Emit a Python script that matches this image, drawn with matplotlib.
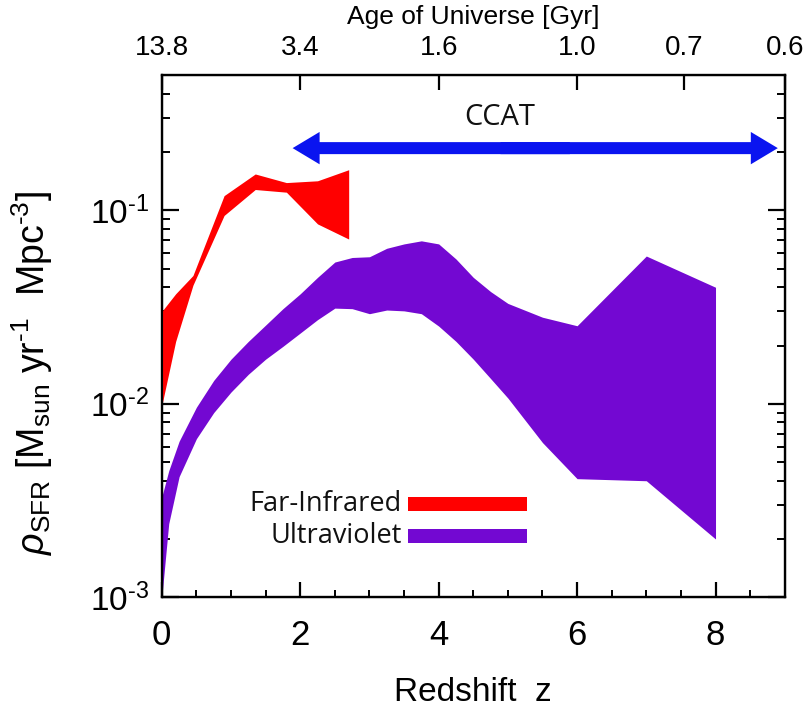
import matplotlib
matplotlib.use("Agg")
import matplotlib.pyplot as plt
import matplotlib.patches as mpatches
from matplotlib.transforms import blended_transform_factory
from matplotlib.ticker import MultipleLocator, LogLocator, FixedLocator, NullFormatter

# ---------------- data ----------------
z_fir = [0, 0.2, 0.45, 0.9, 1.35, 1.8, 2.25, 2.7]
fir_hi = [0.030, 0.037, 0.046, 0.119, 0.154, 0.139, 0.142, 0.162]
fir_lo = [0.0098, 0.021, 0.041, 0.094, 0.128, 0.124, 0.085, 0.071]

z_uv = [0, 0.1, 0.25, 0.5, 0.75, 1.0, 1.25, 1.5, 1.75, 2.0, 2.25, 2.5, 2.75,
        3.0, 3.25, 3.5, 3.75, 4.0, 4.25, 4.5, 4.75, 5.0, 5.5, 6.0, 7.0, 8.0]
uv_hi = [0.0033, 0.0045, 0.0064, 0.0096, 0.0132, 0.0170, 0.0210, 0.0255, 0.031,
         0.037, 0.045, 0.054, 0.057, 0.0575, 0.0636, 0.067, 0.0695, 0.067,
         0.056, 0.045, 0.038, 0.033, 0.028, 0.0253, 0.058, 0.040]
uv_lo = [0.0010, 0.0024, 0.0042, 0.0066, 0.0090, 0.0115, 0.0142, 0.0170, 0.0198,
         0.0232, 0.0272, 0.0312, 0.031, 0.0292, 0.0305, 0.0302, 0.0292, 0.0252,
         0.021, 0.017, 0.0135, 0.0107, 0.0063, 0.0041, 0.0040, 0.0020]

ccat_range = (1.89, 8.9)
ccat_label = "CCAT"

bottom_ticks = [0, 2, 4, 6, 8]
top_tick_z = [0, 2, 4, 6, 7.54, 9]
top_tick_labels = ["13.8", "3.4", "1.6", "1.0", "0.7", "0.6"]
ytick_vals = [1e-3, 1e-2, 1e-1]
ytick_labels = ["$10^{\u2010 3}$", "$10^{\u20102}$", "$10^{\u20101}$"]
ytick_labels = ["$10^{\u20103}$", "$10^{\u20102}$", "$10^{\u20101}$"]

series_names = ["Far-Infrared", "Ultraviolet"]
RED = "#ff0000"
PURPLE = "#7308d2"
BLUE = "#0a14f0"

# ---------------- style ----------------
plt.rcParams["font.family"] = ["Liberation Sans", "DejaVu Sans"]
plt.rcParams["mathtext.fontset"] = "custom"
plt.rcParams["mathtext.rm"] = "Liberation Sans"
plt.rcParams["mathtext.it"] = "Liberation Sans:italic"
plt.rcParams["mathtext.bf"] = "Liberation Sans:bold"

fig = plt.figure(figsize=(8.09, 7.11), dpi=100)
ax = fig.add_axes([0.200, 0.160, 0.770, 0.7345])

ax.fill_between(z_fir, fir_lo, fir_hi, color=RED, lw=0, zorder=3)
ax.fill_between(z_uv, uv_lo, uv_hi, color=PURPLE, lw=0, zorder=2)

ax.set_yscale("log")
ax.set_xlim(0, 9)
ax.set_ylim(1e-3, 0.5)

for s in ax.spines.values():
    s.set_linewidth(1.7)

ax.xaxis.set_major_locator(FixedLocator(bottom_ticks))
ax.xaxis.set_minor_locator(MultipleLocator(0.5))
ax.set_xticklabels([str(t) for t in bottom_ticks])
ax.yaxis.set_major_locator(FixedLocator(ytick_vals))
ax.set_yticklabels(ytick_labels)
ax.yaxis.set_minor_locator(LogLocator(base=10, subs=range(2, 10)))
ax.yaxis.set_minor_formatter(NullFormatter())

ax.tick_params(axis="x", which="major", direction="in", length=11, width=1.6,
               labelsize=25, pad=16, top=False)
ax.tick_params(axis="x", which="minor", direction="in", length=5, width=1.4, top=False)
ax.tick_params(axis="y", which="major", direction="in", length=12, width=1.6,
               labelsize=24, pad=9, right=True)
ax.tick_params(axis="y", which="minor", direction="in", length=6, width=1.4, right=True)

ax.set_xlabel("Redshift  z", fontsize=24, labelpad=18)
ax.set_ylabel("$\\rho_{\\rm SFR}$ [M$_{\\rm sun}$ yr$^{\u20101}$  Mpc$^{\u20103}$]", fontsize=27)
ax.yaxis.set_label_coords(-0.172, 0.43)

# top axis: age of Universe
axt = ax.twiny()
axt.set_xlim(ax.get_xlim())
axt.xaxis.set_major_locator(FixedLocator(top_tick_z))
axt.set_xticklabels(top_tick_labels)
axt.tick_params(axis="x", which="major", direction="in", length=11, width=1.6,
                labelsize=20, pad=10)
axt.xaxis.set_minor_locator(FixedLocator([]))
axt.set_xlabel("Age of Universe [Gyr]", fontsize=19, labelpad=8)

# CCAT double arrow (two overlapping arrows from the middle outward)
trans = blended_transform_factory(ax.transData, ax.transAxes)
ya = 0.86
mid = 0.5 * (ccat_range[0] + ccat_range[1])
for end, off in zip(ccat_range, (0.5, -0.5)):
    start = mid + off
    arr = mpatches.FancyArrow(start, ya, end - start, 0, width=0.023, head_width=0.062,
                              head_length=0.39, length_includes_head=True,
                              transform=trans, color=BLUE, lw=0, zorder=5)
    ax.add_patch(arr)
ax.text(4.88, 0.918, ccat_label, transform=trans, ha="center", va="center",
        fontsize=21, family=["Open Sans", "DejaVu Sans"], color="#111111")

# legend drawn manually
leg_colors = [RED, PURPLE]
leg_y = [0.178, 0.118]
for name, col, yy in zip(series_names, leg_colors, leg_y):
    ax.text(0.385, yy, name, transform=ax.transAxes, ha="right", va="center",
            fontsize=19.5, family=["Open Sans", "DejaVu Sans"], color="#111111")
    ax.add_patch(mpatches.Rectangle((0.396, yy - 0.0135), 0.191, 0.027,
                                    transform=ax.transAxes, color=col, lw=0, zorder=6))

fig.savefig("out.png", dpi=100)
